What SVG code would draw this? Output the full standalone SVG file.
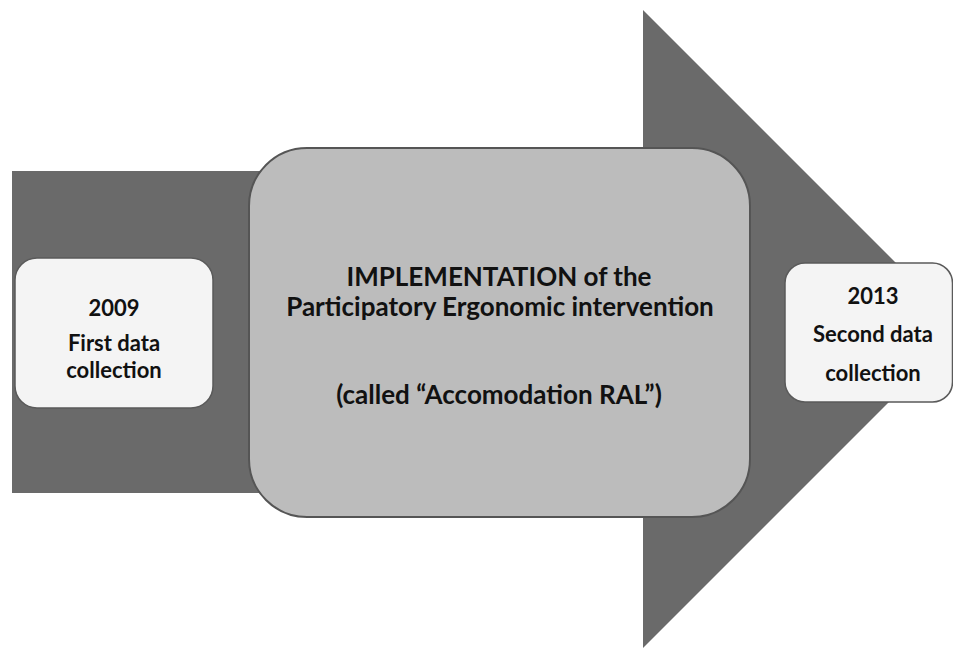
<svg xmlns="http://www.w3.org/2000/svg" width="953" height="649" viewBox="0 0 953 649">
  <style>
    .lbl { font-family: Lato, "Open Sans", "Liberation Sans", sans-serif; font-weight: bold; fill: #111; text-anchor: middle; }
    .big { font-size: 26px; }
    .small { font-size: 22px; }
    .flow { fill: #6a6a6a; }
    .phase { fill: #f4f4f4; stroke: #5a5a5a; stroke-width: 1.5; }
    .core { fill: #bcbcbc; stroke: #555; stroke-width: 2; }
  </style>

  <!-- big timeline arrow in the background -->
  <g id="connectors">
    <path class="flow" d="M12,171 L643,171 L643,10 L962,329 L643,648 L643,493 L12,493 Z"/>
  </g>

  <g id="first-collection">
    <rect class="phase" x="15" y="258" width="198" height="150" rx="22" ry="22" stroke="none"/>
    <text class="lbl small" x="114" y="316">2009</text>
    <text class="lbl small" x="114" y="351">First data</text>
    <text class="lbl small" x="114" y="378">collection</text>
  </g>

  <g id="implementation">
    <rect class="core" x="249" y="148" width="501" height="369" rx="58" ry="58"/>
    <text class="lbl big" x="499" y="286">IMPLEMENTATION of the</text>
    <text class="lbl big" x="500" y="316">Participatory Ergonomic intervention</text>
    <text class="lbl big" x="499" y="404">(called “Accomodation RAL”)</text>
  </g>

  <g id="second-collection">
    <rect class="phase" x="785" y="263" width="167.5" height="139" rx="20" ry="20"/>
    <text class="lbl small" x="873" y="304">2013</text>
    <text class="lbl small" x="873" y="342">Second data</text>
    <text class="lbl small" x="873" y="381">collection</text>
  </g>
</svg>
